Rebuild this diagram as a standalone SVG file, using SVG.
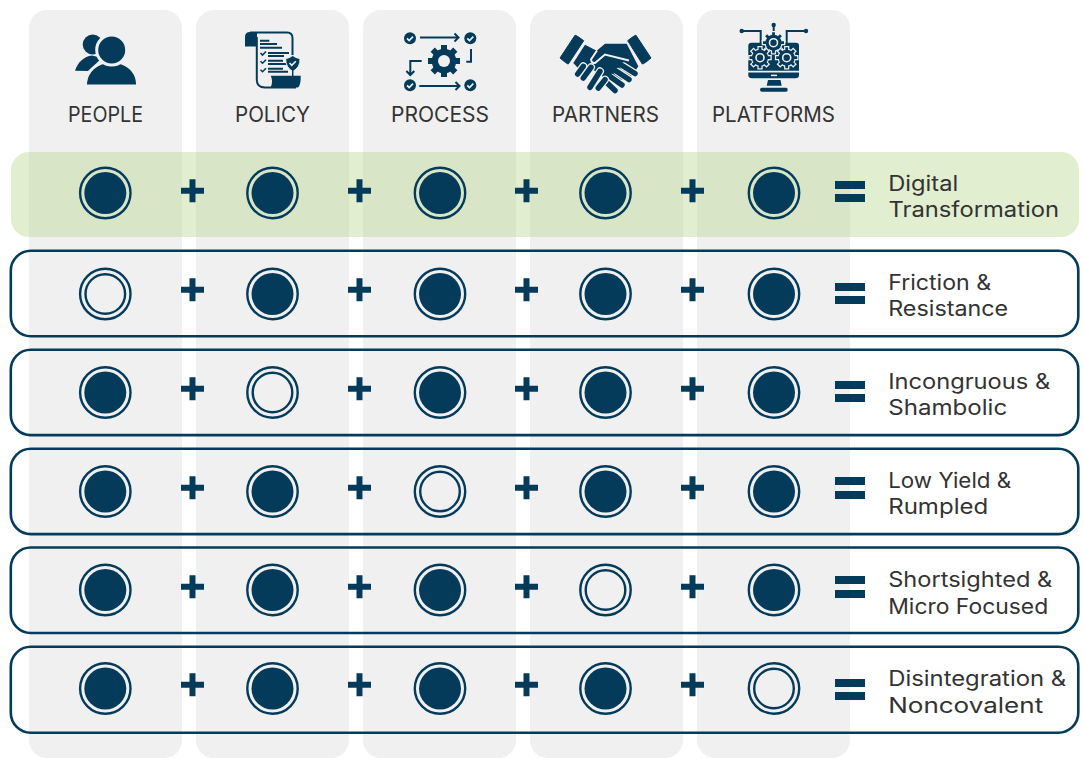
<svg xmlns="http://www.w3.org/2000/svg" width="1084" height="758" viewBox="0 0 1084 758">
<style>
.col{fill:#f0f0f0}
.h{font-family:"Inter","Liberation Sans",sans-serif;font-size:21px;fill:#333}
.row{fill:none;stroke:#053b5a;stroke-width:2.600}
.o{fill:none;stroke:#053b5a;stroke-width:2.400}
.f{fill:#053b5a}
.s{fill:none;stroke:#053b5a;stroke-width:2}
</style>
<defs>
<g id="on"><circle class="o" r="25.200"/><circle class="f" r="21"/></g>
<g id="off"><circle class="o" r="25.200"/><circle class="o" r="19.800"/></g>
<path id="plus" class="f" d="M-3-11.500h6v8.500h8.500v6h-8.500v8.500h-6v-8.500h-8.500v-6h8.500z"/>
<path id="eq" class="f" d="M835 0h30v8h-30zM835 13h30v8h-30z"/>
<path id="eq2" class="f" d="M835 0h30v8h-30zM835 14h30v8h-30z"/>
<g id="chk"><circle class="f" r="6"/><path d="M-3 0l2.200 2.200 3.800-3.800" fill="none" stroke="#f0f0f0" stroke-width="1.700"/></g>
<g id="gear">
<g stroke="#f0f0f0" stroke-width="5.200"><path d="M0-11.800V11.800M-11.800 0H11.800M-8.300-8.300L8.300 8.300M-8.300 8.300L8.300-8.300"/></g>
<circle r="9.200" fill="#f0f0f0"/>
<g stroke="#053b5a" stroke-width="2.800"><path d="M0-10.500V10.500M-10.500 0H10.500M-7.400-7.400L7.400 7.400M-7.400 7.400L7.400-7.400"/></g>
<circle r="8" fill="#053b5a"/>
<circle r="4" fill="none" stroke="#f0f0f0" stroke-width="1.600"/>
</g>
</defs>

<g id="columns">
<rect class="col" x="29" y="10" width="153" height="748" rx="18"/>
<rect class="col" x="196" y="10" width="153" height="748" rx="18"/>
<rect class="col" x="363" y="10" width="153" height="748" rx="18"/>
<rect class="col" x="530" y="10" width="153" height="748" rx="18"/>
<rect class="col" x="697" y="10" width="153" height="748" rx="18"/>
</g>

<g id="head-people">
<circle class="f" cx="92.700" cy="44.500" r="10"/>
<path class="f" d="M75 70.700C78 62 84 56.500 92 55.500L102 58 88 71z"/>
<path class="f" d="M87 84.500C87 72 97 63 111.500 63S136 72 136 84.500z"/>
<path d="M85.500 84C86 72 96 61.500 111.500 61.500" fill="none" stroke="#f0f0f0" stroke-width="2.500"/>
<circle class="f" cx="111.700" cy="50" r="15" stroke="#f0f0f0" stroke-width="3"/>
<text class="h" x="105.500" y="122" text-anchor="middle" textLength="75" lengthAdjust="spacingAndGlyphs">PEOPLE</text>
</g>

<g id="head-policy">
<path class="f" d="M250 32H257V46.500H245V37Q245 32 250 32z"/>
<path class="s" stroke-width="1.800" d="M250 32.500H287Q292.500 32.500 292.500 38V55M256.800 37V80Q257 87.500 265 87.500H296"/>
<path class="s" stroke-width="1.600" d="M260 40.700H269.300M260 44H277M260 47.700H282M268 53H289M268 56H284M268 60.700H283M268 64H288M268 68.700H283M268 71.800H288"/>
<path d="M260.500 53l2 2 3.500-3.500M260.500 61.200l2 2 3.500-3.500M260.500 69.700l2 2 3.500-3.500" fill="none" stroke="#053b5a" stroke-width="1.600"/>
<path class="f" d="M270.700 75.700H300.700Q301 85 298 87.500H270.700Q273.500 81 270.700 75.700z"/>
<path class="f" d="M285.700 58.500Q290 58 292.700 55.500 295.500 58 300 58.500 300.500 67.500 292.700 71.500 285.500 67.500 285.700 58.500z" stroke="#f0f0f0" stroke-width="1"/>
<path d="M289.500 63l2.300 2.300 4-4" fill="none" stroke="#f0f0f0" stroke-width="1.600"/>
<path d="M292.700 70V76" stroke="#053b5a" stroke-width="1.500"/>
<text class="h" x="272.500" y="122" text-anchor="middle" textLength="75" lengthAdjust="spacingAndGlyphs">POLICY</text>
</g>

<g id="head-process">
<use href="#chk" x="410" y="38.300"/>
<use href="#chk" x="470.300" y="38.300"/>
<use href="#chk" x="410" y="85.300"/>
<use href="#chk" x="470.300" y="85.300"/>
<path class="s" stroke-width="1.600" d="M420 37.500H458.500M454.500 33.500L458.500 37.500 454.500 41.500M419.300 86H459.500M455.500 82L459.500 86 455.500 90M471 49V61.700H466.300M421.700 61H410.300V75M406.300 71L410.300 75 414.300 71"/>
<g transform="translate(444 61)">
<path stroke="#053b5a" stroke-width="6" d="M0-16V16M-16 0H16M-11.300-11.300L11.300 11.300M-11.300 11.300L11.300-11.300"/>
<circle r="12.300" class="f"/>
<circle r="6" fill="#f0f0f0"/>
</g>
<text class="h" x="440" y="122" text-anchor="middle" textLength="98" lengthAdjust="spacingAndGlyphs">PROCESS</text>
</g>

<g id="head-partners">
<path class="f" d="M560 58L575 35.300Q576 35 583.700 40.700L568.300 64Q567 64 560 58z" stroke="#053b5a" stroke-linejoin="round"/>
<path class="f" d="M627.700 40.700Q635 35 636 35.300L651 58Q644 64 642.300 64z" stroke="#053b5a" stroke-linejoin="round"/>
<path class="f" d="M585 44.700L596.700 50.700 605 43.700H626.700L638.300 66.300 632 76 610 84 600 74 590 68 578 68 573.300 63z"/>
<path d="M597 50.500L591 59.500Q591.500 63.500 595 63L605 54.500 629 60.500" fill="none" stroke="#f0f0f0" stroke-width="2"/>
<g fill="none" stroke-linecap="round">
<g stroke="#f0f0f0" stroke-width="8">
<path d="M624 66.500L635 73.500M618 72L629 79.500M612 78L622 85M607 83L615 90.500"/>
</g>
<g stroke="#053b5a" stroke-width="5.500">
<path d="M618 63L635 73.500M613 69L629 79.500M608 75L622 85M604 80L615 90.500"/>
</g>
<g stroke="#f0f0f0" stroke-width="8">
<path d="M583.300 66.300L577.700 74M591 67.300L583.300 78M600 71.300L590 87.300M605 79.700L598.300 88"/>
</g>
<g stroke="#053b5a" stroke-width="5.500">
<path d="M583.300 66.300L577.700 74M591 67.300L583.300 78M600 71.300L590 87.300M605 79.700L598.300 88"/>
</g>
</g>
<text class="h" x="605.500" y="122" text-anchor="middle" textLength="107" lengthAdjust="spacingAndGlyphs">PARTNERS</text>
</g>

<g id="head-platforms">
<path class="f" d="M751.500 42.700H796Q799 42.700 799 45.700V70.800H748.300V45.700Q748.300 42.700 751.500 42.700zM748.300 72.600H799V75Q799 78.300 795.500 78.300H752Q748.300 78.300 748.300 75zM768 80H780.500L781.700 85.700H766.700zM762 87.700H786Q787.700 87.700 787.700 89.700 787.700 91.700 786 91.700H762Q760 91.700 760 89.700 760 87.700 762 87.700z"/>
<path d="M771 75.400H777" stroke="#f0f0f0" stroke-width="1.500"/>
<path class="s" stroke-width="1.600" d="M741.700 31H760.700V47M773.700 25V33M806 31H786.700V47"/>
<circle class="f" cx="741.700" cy="31" r="2.200"/><circle class="f" cx="773.700" cy="25" r="2.200"/><circle class="f" cx="806" cy="31" r="2.200"/>
<use href="#gear" x="773.500" y="42.700"/>
<use href="#gear" x="760" y="57.700"/>
<use href="#gear" x="786.700" y="57.700"/>
<text class="h" x="773.500" y="122" text-anchor="middle" textLength="123" lengthAdjust="spacingAndGlyphs">PLATFORMS</text>
</g>

<g id="connectors"></g>

<g id="row-0">
<rect x="11" y="152" width="1068" height="85" rx="18" fill="#b6d489" fill-opacity=".4"/>
<use href="#on" x="105.300" y="193"/><use href="#on" x="272.500" y="193"/><use href="#on" x="440" y="193"/><use href="#on" x="605.500" y="193"/><use href="#on" x="774" y="193"/>
<use href="#plus" x="192.500" y="190.700"/><use href="#plus" x="359.500" y="190.700"/><use href="#plus" x="526.500" y="190.700"/><use href="#plus" x="692.500" y="190.700"/>
<use href="#eq" y="181"/>
<text class="h" x="888.200" y="191" textLength="70" lengthAdjust="spacingAndGlyphs">Digital</text>
<text class="h" x="888.500" y="217" textLength="170.500" lengthAdjust="spacingAndGlyphs">Transformation</text>
</g>
<g id="row-1">
<rect class="row" x="10.800" y="250.800" width="1067.500" height="85.400" rx="20"/>
<use href="#off" x="105.300" y="294"/><use href="#on" x="272.500" y="294"/><use href="#on" x="440" y="294"/><use href="#on" x="605.500" y="294"/><use href="#on" x="774" y="294"/>
<use href="#plus" x="192.500" y="289.700"/><use href="#plus" x="359.500" y="289.700"/><use href="#plus" x="526.500" y="289.700"/><use href="#plus" x="692.500" y="289.700"/>
<use href="#eq" y="283"/>
<text class="h" x="888.200" y="290" textLength="103" lengthAdjust="spacingAndGlyphs">Friction &amp;</text>
<text class="h" x="888.200" y="316" textLength="120" lengthAdjust="spacingAndGlyphs">Resistance</text>
</g>
<g id="row-2">
<rect class="row" x="10.800" y="349.700" width="1067.500" height="85.400" rx="20"/>
<use href="#on" x="105.300" y="392.500"/><use href="#off" x="272.500" y="392.500"/><use href="#on" x="440" y="392.500"/><use href="#on" x="605.500" y="392.500"/><use href="#on" x="774" y="392.500"/>
<use href="#plus" x="192.500" y="388.700"/><use href="#plus" x="359.500" y="388.700"/><use href="#plus" x="526.500" y="388.700"/><use href="#plus" x="692.500" y="388.700"/>
<use href="#eq" y="381"/>
<text class="h" x="888.200" y="389" textLength="162" lengthAdjust="spacingAndGlyphs">Incongruous &amp;</text>
<text class="h" x="888.200" y="415" textLength="119" lengthAdjust="spacingAndGlyphs">Shambolic</text>
</g>
<g id="row-3">
<rect class="row" x="10.800" y="448.700" width="1067.500" height="85.400" rx="20"/>
<use href="#on" x="105.300" y="491.500"/><use href="#on" x="272.500" y="491.500"/><use href="#off" x="440" y="491.500"/><use href="#on" x="605.500" y="491.500"/><use href="#on" x="774" y="491.500"/>
<use href="#plus" x="192.500" y="487.700"/><use href="#plus" x="359.500" y="487.700"/><use href="#plus" x="526.500" y="487.700"/><use href="#plus" x="692.500" y="487.700"/>
<use href="#eq2" y="477"/>
<text class="h" x="888.200" y="488" textLength="123" lengthAdjust="spacingAndGlyphs">Low Yield &amp;</text>
<text class="h" x="888.200" y="514" textLength="100" lengthAdjust="spacingAndGlyphs">Rumpled</text>
</g>
<g id="row-4">
<rect class="row" x="10.800" y="547.500" width="1067.500" height="85.500" rx="20"/>
<use href="#on" x="105.300" y="590"/><use href="#on" x="272.500" y="590"/><use href="#on" x="440" y="590"/><use href="#off" x="605.500" y="590"/><use href="#on" x="774" y="590"/>
<use href="#plus" x="192.500" y="586.700"/><use href="#plus" x="359.500" y="586.700"/><use href="#plus" x="526.500" y="586.700"/><use href="#plus" x="692.500" y="586.700"/>
<use href="#eq2" y="576"/>
<text class="h" x="888.200" y="587" textLength="164" lengthAdjust="spacingAndGlyphs">Shortsighted &amp;</text>
<text class="h" x="888.200" y="613.700" textLength="160" lengthAdjust="spacingAndGlyphs">Micro Focused</text>
</g>
<g id="row-5">
<rect class="row" x="10.800" y="646.700" width="1067.500" height="86" rx="20"/>
<use href="#on" x="105.300" y="688.500"/><use href="#on" x="272.500" y="688.500"/><use href="#on" x="440" y="688.500"/><use href="#on" x="605.500" y="688.500"/><use href="#off" x="774" y="688.500"/>
<use href="#plus" x="192.500" y="684.700"/><use href="#plus" x="359.500" y="684.700"/><use href="#plus" x="526.500" y="684.700"/><use href="#plus" x="692.500" y="684.700"/>
<use href="#eq" y="679"/>
<text class="h" x="888.200" y="686" textLength="178" lengthAdjust="spacingAndGlyphs">Disintegration &amp;</text>
<text class="h" x="888.200" y="712.500" textLength="155" lengthAdjust="spacingAndGlyphs">Noncovalent</text>
</g>
</svg>
